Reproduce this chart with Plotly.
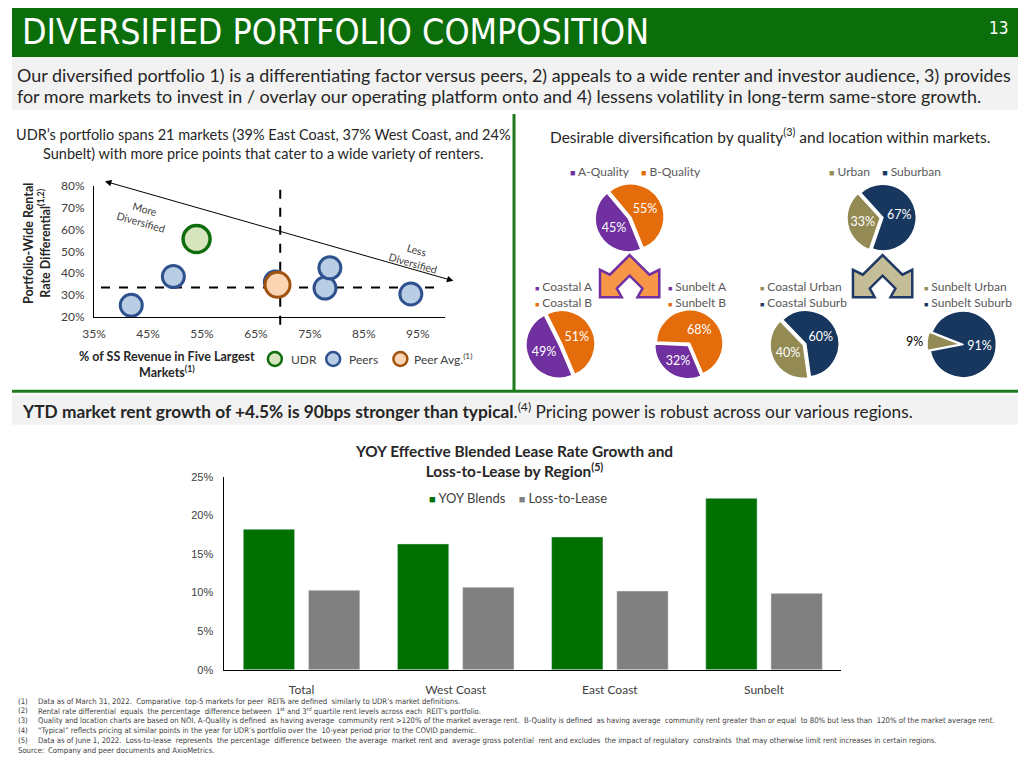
import plotly.graph_objects as go

W, H = 1018, 768
def px(x): return x / W
def py(y): return 1 - y / H

# ---------------- data ----------------
udr_x = [54.0]
udr_y = [55.7]
peer_x = [41.9, 49.7, 68.6, 77.8, 78.7, 93.7]
peer_y = [25.3, 38.5, 36.0, 33.2, 42.5, 30.5]
avg_x = [69.0]
avg_y = [34.7]
avg_line_x = 69.5
avg_line_y = 33.5
scatter_xticks = [35, 45, 55, 65, 75, 85, 95]
scatter_yticks = [20, 30, 40, 50, 60, 70, 80]

quality_labels = ["A-Quality", "B-Quality"]
quality_values = [45, 55]
location_labels = ["Urban", "Suburban"]
location_values = [33, 67]
coastal_q_labels = ["Coastal A", "Coastal B"]
coastal_q_values = [49, 51]
sunbelt_q_labels = ["Sunbelt A", "Sunbelt B"]
sunbelt_q_values = [32, 68]
coastal_l_labels = ["Coastal Urban", "Coastal Suburb"]
coastal_l_values = [40, 60]
sunbelt_l_labels = ["Sunbelt Urban", "Sunbelt Suburb"]
sunbelt_l_values = [9, 91]

regions = ["Total", "West Coast", "East Coast", "Sunbelt"]
yoy_blends = [18.2, 16.3, 17.2, 22.2]
loss_to_lease = [10.3, 10.7, 10.2, 9.9]
bar_series = ["YOY Blends", "Loss-to-Lease"]
bar_yticks = [0, 5, 10, 15, 20, 25]

footnotes = [
    ("(1)", "Data as of March 31, 2022.  Comparative  top-5 markets for peer  REITs are defined  similarly to UDR\u2019s market definitions."),
    ("(2)", "Rental rate differential  equals  the percentage  difference between  1<sup>st</sup> and 3<sup>rd</sup> quartile rent levels across each  REIT\u2019s portfolio."),
    ("(3)", "Quality and location charts are based on NOI. A-Quality is defined  as having average  community rent >120% of the market average rent.  B-Quality is defined  as having average  community rent greater than or equal  to 80% but less than  120% of the market average rent."),
    ("(4)", "\u201cTypical\u201d reflects pricing at similar points in the year for UDR\u2019s portfolio over the  10-year period prior to the COVID pandemic."),
    ("(5)", "Data as of June 1, 2022.  Loss-to-lease  represents  the percentage  difference between  the average  market rent and  average gross potential  rent and excludes  the impact of regulatory  constraints  that may otherwise limit rent increases in certain regions."),
    ("Source:", "Company and peer documents and AxioMetrics."),
]

# ---------------- styles ----------------
CAL = "Lato, Carlito, Calibri, sans-serif"
NARROW = "Liberation Sans Narrow, Arial Narrow, DejaVu Sans Condensed, sans-serif"
ARIAL = "Liberation Sans, Arial, sans-serif"
GREEN_HDR = "#0b6e0b"
GREEN_LINE = "#1d7a1d"
PURPLE = "#7030a0"
ORANGE = "#e46c0a"
OLIVE = "#948a54"
NAVY = "#17375e"
BAR_GREEN = "#007000"
BAR_GRAY = "#808080"
TXT = "#262626"
GRAYTXT = "#595959"

fig = go.Figure()

# ---------------- scatter ----------------
fig.add_trace(go.Scatter(x=peer_x, y=peer_y, mode="markers", xaxis="x", yaxis="y",
                         marker=dict(size=22, color="#b9cde5", line=dict(color="#2f528f", width=3)),
                         cliponaxis=False, showlegend=False, hoverinfo="skip"))
fig.add_trace(go.Scatter(x=avg_x, y=avg_y, mode="markers", xaxis="x", yaxis="y",
                         marker=dict(size=25, color="#fbd4b4", line=dict(color="#a0520f", width=3)),
                         cliponaxis=False, showlegend=False, hoverinfo="skip"))
fig.add_trace(go.Scatter(x=udr_x, y=udr_y, mode="markers", xaxis="x", yaxis="y",
                         marker=dict(size=27, color="#d7e4bd", line=dict(color="#0e6e0e", width=3.5)),
                         cliponaxis=False, showlegend=False, hoverinfo="skip"))

# ---------------- bars ----------------
fig.add_trace(go.Bar(x=regions, y=yoy_blends, name=bar_series[0], marker_color=BAR_GREEN,
                     xaxis="x2", yaxis="y2", hoverinfo="skip", showlegend=False))
fig.add_trace(go.Bar(x=regions, y=loss_to_lease, name=bar_series[1], marker_color=BAR_GRAY,
                     xaxis="x2", yaxis="y2", hoverinfo="skip", showlegend=False))

# ---------------- pies ----------------
def pie(labels, values, colors, cx, cy, rot, r=34, pull=0.04, textpos="inside"):
    s = r * (1 + pull)
    return go.Pie(labels=labels, values=values, sort=False, direction="clockwise", rotation=rot,
                  domain=dict(x=[px(cx - s), px(cx + s)], y=[py(cy + s), py(cy - s)]),
                  marker=dict(colors=colors, line=dict(color="white", width=1.5)),
                  pull=pull, texttemplate="%{value}%", textposition=textpos,
                  insidetextorientation="horizontal",
                  insidetextfont=dict(color="white", size=12.5, family=CAL),
                  outsidetextfont=dict(color="black", size=12.5, family=CAL),
                  showlegend=False, hoverinfo="skip")

fig.add_trace(pie(quality_labels, quality_values, [PURPLE, ORANGE], 625, 214, 158))
fig.add_trace(pie(location_labels, location_values, [OLIVE, NAVY], 880, 214, 199))
fig.add_trace(pie(coastal_q_labels, coastal_q_values, [PURPLE, ORANGE], 555, 343, 157))
fig.add_trace(pie(sunbelt_q_labels, sunbelt_q_values, [PURPLE, ORANGE], 685, 343, 157))
fig.add_trace(pie(coastal_l_labels, coastal_l_values, [OLIVE, NAVY], 802, 343, 172))
fig.add_trace(pie(sunbelt_l_labels, sunbelt_l_values, [OLIVE, NAVY], 961, 343, 259,
                  textpos=["outside", "inside"]))

# ---------------- shapes ----------------
shapes = []
def rect(x0, y0, x1, y1, color):
    shapes.append(dict(type="rect", xref="paper", yref="paper", x0=px(x0), x1=px(x1),
                       y0=py(y1), y1=py(y0), fillcolor=color, line=dict(width=0), layer="below"))
def pline(x0, y0, x1, y1, color, width):
    shapes.append(dict(type="line", xref="paper", yref="paper", x0=px(x0), x1=px(x1),
                       y0=py(y0), y1=py(y1), line=dict(color=color, width=width), layer="below"))

rect(0, 0, W, 50, GREEN_HDR)
rect(0, 50, W, 104, "#f2f2f2")
rect(0, 395, W, 425, "#f2f2f2")
pline(508, 108, 508, 391, GREEN_LINE, 3)
pline(0, 391, W, 391, GREEN_LINE, 3)

# dashed reference lines in the scatter
shapes.append(dict(type="line", xref="x", yref="y", x0=36.3, x1=99.3, y0=avg_line_y, y1=avg_line_y,
                   line=dict(color="black", width=2, dash="dash"), layer="below"))
shapes.append(dict(type="line", xref="x", yref="paper", x0=avg_line_x, x1=avg_line_x,
                   y0=py(323), y1=py(185), line=dict(color="black", width=2, dash="dash"), layer="below"))

# chevrons
def chevron(cx, fill, edge):
    pts = [(0, 252), (20, 272), (30, 267), (30, 295), (8, 295), (13, 286), (0, 273),
           (-13, 286), (-8, 295), (-30, 295), (-30, 267), (-20, 272)]
    d = "M " + " L ".join(f"{px(cx + x):.5f},{py(y):.5f}" for x, y in pts) + " Z"
    shapes.append(dict(type="path", xref="paper", yref="paper", path=d, fillcolor=fill,
                       line=dict(color=edge, width=2.5), layer="above"))
chevron(625, "#f79646", PURPLE)
chevron(881, "#c4bd97", "#1f3864")

# scatter legend circles
def lcircle(cx, cy, fill, edge):
    shapes.append(dict(type="circle", xref="paper", yref="paper", xsizemode="pixel", ysizemode="pixel",
                       xanchor=px(cx), yanchor=py(cy), x0=-7, x1=7, y0=-7, y1=7,
                       fillcolor=fill, line=dict(color=edge, width=2.5), layer="above"))
lcircle(266, 358, "#d7e4bd", "#0e6e0e")
lcircle(325, 358, "#b9cde5", "#2f528f")
lcircle(393, 358, "#fbd4b4", "#a0520f")

# ---------------- annotations ----------------
ann = []
def text(x, y, t, size=12, color=TXT, family=CAL, xanchor="left", yanchor="middle", align="left", **kw):
    ann.append(dict(x=px(x), y=py(y), xref="paper", yref="paper", text=t, showarrow=False,
                    xanchor=xanchor, yanchor=yanchor, align=align,
                    font=dict(size=size, color=color, family=family), **kw))

text(8, 24, "DIVERSIFIED PORTFOLIO COMPOSITION", size=35.5, color="white", family=NARROW)
text(1010, 20, "13", size=17, color="white", family=NARROW, xanchor="right")
text(3, 68, "Our diversified portfolio 1) is a differentiating factor versus peers, 2) appeals to a wide renter and investor audience, 3) provides",
     size=17.9, color=TXT)
text(3, 90, "for more markets to invest in / overlay our operating platform onto and 4) lessens volatility in long-term same-store growth.",
     size=17.9, color=TXT)

text(254, 139, "UDR\u2019s portfolio spans 21 markets (39% East Coast, 37% West Coast, and 24%<br>Sunbelt) with more price points that cater to a wide variety of renters.",
     size=14.5, xanchor="center", align="center")
text(767, 130, "Desirable diversification by quality<sup>(3)</sup> and location within markets.",
     size=15.5, xanchor="center", align="center")

def sq(color, fs=9):
    return f"<span style='color:{color};font-size:{fs}px'>\u25a0</span>"
NB = "&nbsp;"
text(631, 167, f"{sq(PURPLE)} {quality_labels[0]}{NB*4}{sq(ORANGE)} {quality_labels[1]}", size=12, color=GRAYTXT, xanchor="center")
text(883, 167, f"{sq(OLIVE)} {location_labels[0]}{NB*4}{sq(NAVY)} {location_labels[1]}", size=12, color=GRAYTXT, xanchor="center")
text(527, 292, f"{sq(PURPLE,7)} {coastal_q_labels[0]}<br>{sq(ORANGE,7)} {coastal_q_labels[1]}", size=12, color=GRAYTXT)
text(662, 292, f"{sq(PURPLE,7)} {sunbelt_q_labels[0]}<br>{sq(ORANGE,7)} {sunbelt_q_labels[1]}", size=12, color=GRAYTXT)
text(755, 292, f"{sq(OLIVE,7)} {coastal_l_labels[0]}<br>{sq(NAVY,7)} {coastal_l_labels[1]}", size=12, color=GRAYTXT)
text(921, 292, f"{sq(OLIVE,7)} {sunbelt_l_labels[0]}<br>{sq(NAVY,7)} {sunbelt_l_labels[1]}", size=12, color=GRAYTXT)

# scatter titles / legend
text(25, 240, "<b>Portfolio-Wide Rental<br>Rate Differential<sup>(1,2)</sup></b>", size=12.5,
     xanchor="center", align="center", textangle=-90)
text(157, 364, "<b>% of SS Revenue in Five Largest<br>Markets<sup>(1)</sup></b>", size=12.5,
     xanchor="center", align="center")
text(280, 358, "UDR", size=12, color="#404040")
text(339, 358, "Peers", size=12, color="#404040")
text(405, 358, "Peer Avg.<sup>(1)</sup>", size=12, color="#404040")
text(133, 212, "More<br>Diversified", size=10.5, color="#404040", xanchor="center", align="center", textangle=16)
text(408, 254, "Less<br>Diversified", size=10.5, color="#404040", xanchor="center", align="center", textangle=16)
ann.append(dict(xref="paper", yref="paper", x=px(446.7), y=py(278.3), ax=96.7 - 446.7, ay=178.3 - 278.3,
                axref="pixel", ayref="pixel", text="", showarrow=True, arrowside="end+start",
                arrowhead=2, arrowsize=1.3, arrowwidth=1, arrowcolor="black", standoff=0, startstandoff=0))

# band 2
text(8, 411, "<b>YTD market rent growth of +4.5% is 90bps stronger than typical</b>.<sup>(4)</sup> Pricing power is robust across our various regions.",
     size=17.3, color=TXT)

# bar title + legend
text(508, 462, "<b>YOY Effective Blended Lease Rate Growth and<br>Loss-to-Lease by Region<sup>(5)</sup></b>",
     size=15.4, xanchor="center", align="center")
text(420, 500, f"{sq(BAR_GREEN, 11)} {bar_series[0]}{NB*4}{sq(BAR_GRAY, 11)} {bar_series[1]}",
     size=13, color="#404040")

# footnotes
for i, (k, t) in enumerate(footnotes):
    yy = 707 + 10 * i
    text(4, yy, k, size=7.7, color="#404040", family=NARROW)
    text(24 if k != "Source:" else 34, yy, t, size=7.7, color="#404040", family=NARROW)

fig.update_layout(
    width=W, height=H, autosize=False,
    margin=dict(l=0, r=0, t=0, b=0),
    paper_bgcolor="white", plot_bgcolor="rgba(0,0,0,0)",
    shapes=shapes, annotations=ann,
    barmode="group", bargap=0.154, bargroupgap=0.212,
    showlegend=False,
    xaxis=dict(domain=[px(83), px(438)], range=[35, 100], tickvals=scatter_xticks,
               ticktext=[f"{v}%" for v in scatter_xticks],
               showline=True, linecolor="black", linewidth=1, ticks="", showgrid=False, zeroline=False,
               tickfont=dict(family=CAL, size=12, color="#404040"), ticklabelstandoff=6,
               anchor="y", fixedrange=True),
    yaxis=dict(domain=[py(315), py(181.7)], range=[20, 80], tickvals=scatter_yticks,
               ticktext=[f"{v}%" for v in scatter_yticks],
               showline=True, linecolor="black", linewidth=1, ticks="", showgrid=False, zeroline=False,
               tickfont=dict(family=CAL, size=12, color="#404040"), ticklabelstandoff=6,
               anchor="x", fixedrange=True),
    xaxis2=dict(domain=[px(215), px(839)], showline=True, linecolor="black", linewidth=1, ticks="",
                showgrid=False, zeroline=False, tickfont=dict(family=CAL, size=12, color="#404040"),
                ticklabelstandoff=9, anchor="y2", fixedrange=True),
    yaxis2=dict(domain=[py(675), py(478)], range=[0, 25], tickvals=bar_yticks,
                ticktext=[f"{v}%" for v in bar_yticks],
                showline=True, linecolor="black", linewidth=1, ticks="", showgrid=False, zeroline=False,
                tickfont=dict(family=ARIAL, size=11, color="#404040"), ticklabelstandoff=8,
                anchor="x2", fixedrange=True),
)

post = ("document.documentElement.style.margin='0px';"
        "document.body.style.margin='0px';document.body.style.padding='0px';"
        "document.body.style.overflow='hidden';"
        "var gd=document.getElementById('{plot_id}');"
        "gd.style.position='absolute';gd.style.left='0px';gd.style.top='0px';")
fig.write_html("out.html", config={"displayModeBar": False}, post_script=post)
